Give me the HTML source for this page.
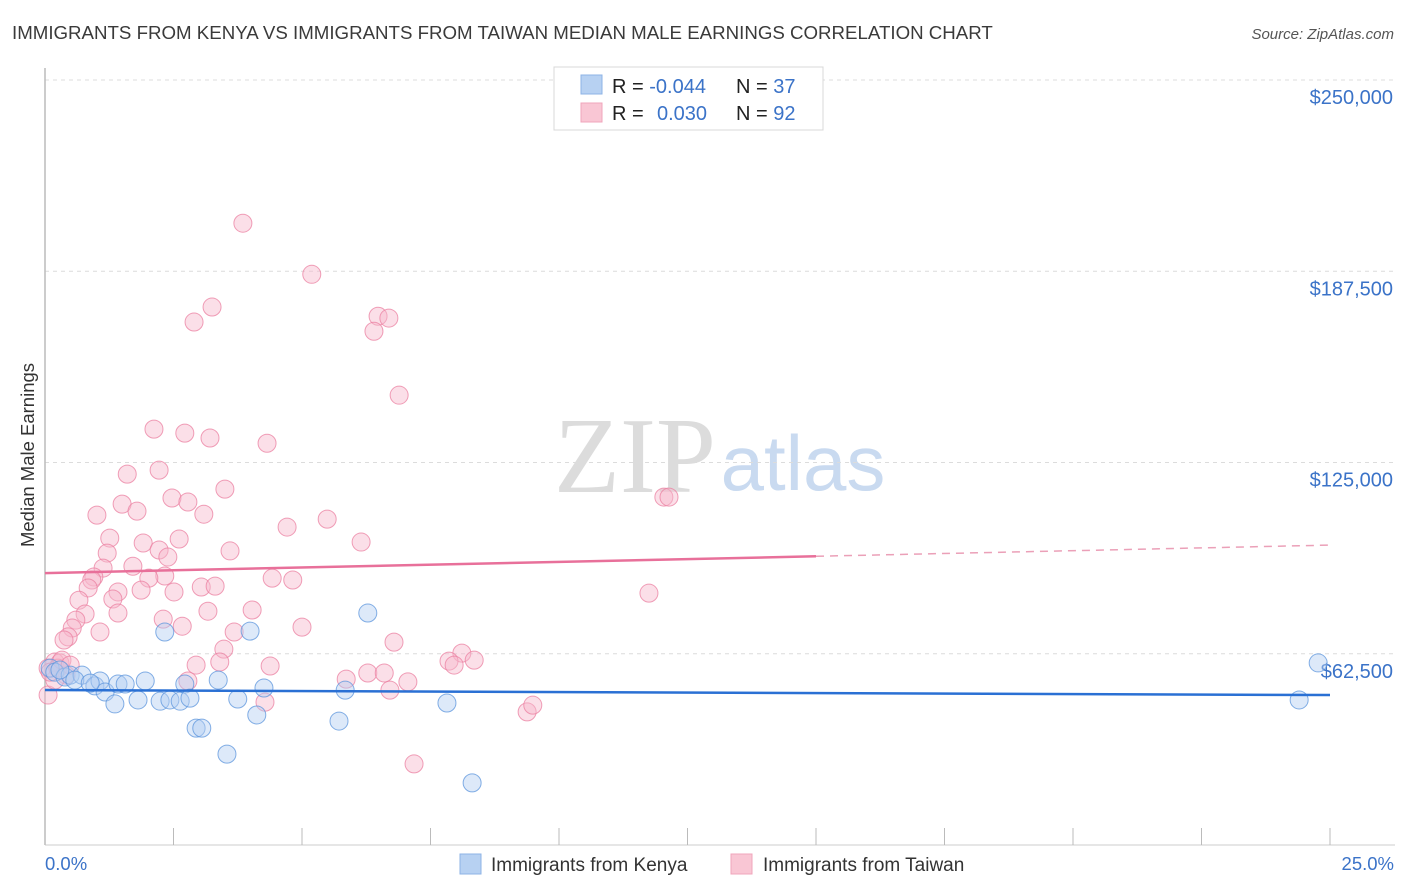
<!DOCTYPE html>
<html><head><meta charset="utf-8"><style>
body{margin:0;background:#fff;font-family:"Liberation Sans",sans-serif;}
svg{display:block}
</style></head><body>
<svg id="chart" width="1406" height="892" viewBox="0 0 1406 892" xmlns="http://www.w3.org/2000/svg">
<text x="12" y="39" font-size="18.7" fill="#3a3a3a">IMMIGRANTS FROM KENYA VS IMMIGRANTS FROM TAIWAN MEDIAN MALE EARNINGS CORRELATION CHART</text>
<text x="1394" y="39" font-size="15" fill="#555" font-style="italic" text-anchor="end">Source: ZipAtlas.com</text>
<g>
<text x="635" y="492" font-size="108" font-family="Liberation Serif,serif" fill="#dcdcdc" text-anchor="middle">ZIP</text>
<text x="803" y="490" font-size="78" fill="#c9daf0" text-anchor="middle">atlas</text>
</g>
<g id="grid"></g>
<g id="axes"></g>
<g id="marks"></g>
<text transform="translate(34,455) rotate(-90)" font-size="18.5" fill="#333" text-anchor="middle">Median Male Earnings</text>
<text x="45" y="870" font-size="18.5" fill="#3b73c8">0.0%</text>
<text x="1394" y="870" font-size="18.5" fill="#3b73c8" text-anchor="end">25.0%</text>
<g>
<rect x="554" y="67" width="269" height="63" fill="#fff" stroke="#d8d8d8"/>
<rect x="581" y="75" width="21" height="19" fill="#b7d1f2" stroke="#8db3e6"/>
<rect x="581" y="103" width="21" height="19" fill="#f9c6d4" stroke="#f0a5bb"/>
<text x="612" y="93" font-size="20" fill="#222">R = <tspan fill="#3b73c8">-0.044</tspan></text>
<text x="736" y="93" font-size="20" fill="#222">N = <tspan fill="#3b73c8">37</tspan></text>
<text x="612" y="120" font-size="20" fill="#222">R = </text>
<text x="657" y="120" font-size="20" fill="#3b73c8">0.030</text>
<text x="736" y="120" font-size="20" fill="#222">N = <tspan fill="#3b73c8">92</tspan></text>
</g>
<g>
<rect x="460" y="854" width="21" height="20" fill="#b7d1f2" stroke="#8db3e6"/>
<text x="491" y="871" font-size="19" fill="#333">Immigrants from Kenya</text>
</g>
<g>
<rect x="731" y="854" width="21" height="20" fill="#f9c6d4" stroke="#f0a5bb"/>
<text x="763" y="871" font-size="19" fill="#333">Immigrants from Taiwan</text>
</g>
</svg>
<script>
const yTicks=[62500,125000,187500,250000];
const yTickLabels=["$62,500","$125,000","$187,500","$250,000"];
const xTicks=[0,2.5,5,7.5,10,12.5,15,17.5,20,22.5,25];
const kenyaX=[0.10,0.19,0.39,0.49,0.72,0.97,1.07,1.17,1.36,1.42,1.56,1.81,1.95,2.24,2.33,2.43,2.63,2.72,2.82,2.94,3.05,3.37,3.54,3.75,3.99,4.12,4.26,5.72,5.84,6.28,7.82,8.31,24.4,24.77,0.29,0.58,0.88];
const kenyaY=[57.8,56.5,54.9,55.5,55.5,52.0,53.6,50.0,46.1,52.6,52.6,47.4,53.6,47.0,69.6,47.4,47.0,52.6,48.0,38.2,38.2,53.9,29.7,47.7,69.9,42.5,51.3,40.5,50.6,75.8,46.4,20.3,47.4,59.5,57.2,53.9,52.9];
const taiwanX=[3.85,5.19,3.25,2.90,6.48,6.69,6.40,6.89,2.12,2.72,3.21,4.32,1.60,2.22,3.50,2.47,2.78,1.50,1.01,1.79,3.09,4.71,5.49,1.26,2.61,6.15,1.91,2.22,3.60,1.21,2.39,12.04,12.14,1.71,1.13,0.95,2.33,2.02,0.91,4.42,4.82,0.84,1.42,1.87,3.04,3.31,2.51,1.32,0.66,11.75,4.03,3.17,0.78,0.60,1.42,2.30,2.67,5.00,0.53,1.07,0.45,0.37,3.68,6.79,8.11,3.48,7.86,7.96,8.35,0.19,0.29,0.06,2.94,3.40,4.38,5.86,6.28,6.60,7.06,2.78,6.71,4.28,9.38,9.49,7.18,0.06,0.41,0.19,0.10,0.25,0.33,0.49];
const taiwanY=[203.2,186.5,175.8,170.9,172.8,172.2,167.9,147.0,135.9,134.6,133.0,131.3,121.2,122.5,116.3,113.4,112.1,111.4,107.8,109.1,108.1,103.9,106.5,100.3,100.0,99.0,98.7,96.4,96.1,95.4,94.1,113.7,113.7,91.1,90.5,87.6,87.9,87.2,86.6,87.2,86.6,84.0,82.7,83.3,84.3,84.6,82.7,80.4,80.0,82.3,76.8,76.4,75.5,73.5,75.8,73.8,71.5,71.2,70.9,69.6,68.0,67.0,69.6,66.3,62.7,64.0,60.1,58.8,60.4,59.8,59.5,57.8,58.8,59.8,58.5,54.2,56.2,56.2,53.3,53.6,50.6,46.7,43.5,45.7,26.5,49.0,55.5,53.9,56.5,57.8,60.4,58.8];
const kenyaTrend=[50640,49000];
const taiwanTrend=[88860,98010];
const taiwanSolidEnd=15;

const NS="http://www.w3.org/2000/svg";
const X0=45,X1=1330,Y0=845,YTOP=80;
const xs=v=>X0+(v/25)*(X1-X0);
const ys=v=>Y0-(v/250000)*(Y0-YTOP);
function mk(tag,attrs,parent){const e=document.createElementNS(NS,tag);for(const k in attrs)e.setAttribute(k,attrs[k]);parent.appendChild(e);return e;}
const grid=document.getElementById('grid'),axes=document.getElementById('axes'),marks=document.getElementById('marks');
yTicks.forEach((t,i)=>{
 const l=mk('line',{x1:X0,x2:1395,y1:ys(t),y2:ys(t),stroke:'#dcdcdc','stroke-dasharray':'4,4'},grid);
 
 
 const tx=mk('text',{x:1393,y:ys(t)+24,'font-size':20,fill:'#3b73c8','text-anchor':'end'},grid);
 tx.textContent=yTickLabels[i];
 
 
});
const ya=mk('line',{x1:X0,x2:X0,y1:68,y2:Y0,stroke:'#bbb','stroke-width':1.5},axes);


const xa=mk('line',{x1:X0,x2:1395,y1:Y0,y2:Y0,stroke:'#ccc'},axes);


xTicks.forEach(t=>{
 const l=mk('line',{x1:xs(t),x2:xs(t),y1:828,y2:Y0,stroke:'#bbb'},axes);
 
 
});
function dots(X,Y,fill,stroke,name){
 X.forEach((x,i)=>{
  const c=mk('circle',{cx:xs(x),cy:ys(Y[i]*1000),r:9,fill:fill,'fill-opacity':0.45,stroke:stroke,'stroke-opacity':0.75,'stroke-width':1},marks);
  
  
 });
}
dots(taiwanX,taiwanY,'#f7b9cc','#eb7fa0','taiwan-point');
dots(kenyaX,kenyaY,'#b3cff2','#5b94dc','kenya-point');
const tm=taiwanTrend[0]+(taiwanTrend[1]-taiwanTrend[0])*taiwanSolidEnd/25;
const p1=mk('line',{x1:xs(0),y1:ys(taiwanTrend[0]),x2:xs(taiwanSolidEnd),y2:ys(tm),stroke:'#e8709a','stroke-width':2.5},marks);


const p2=mk('line',{x1:xs(taiwanSolidEnd),y1:ys(tm),x2:xs(25),y2:ys(taiwanTrend[1]),stroke:'#eba0b8','stroke-width':1.5,'stroke-dasharray':'8,6'},marks);


const k=mk('line',{x1:xs(0),y1:ys(kenyaTrend[0]),x2:xs(25),y2:ys(kenyaTrend[1]),stroke:'#2a70d4','stroke-width':2.5},marks);


</script>
</body></html>
